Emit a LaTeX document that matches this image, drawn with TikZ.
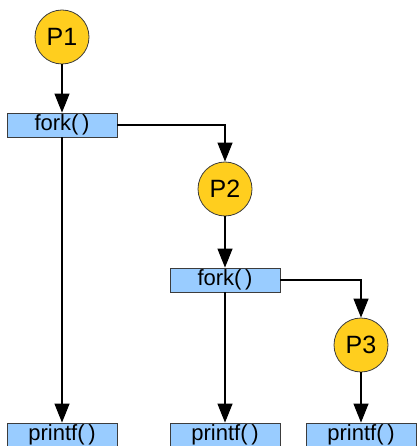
\documentclass[tikz,border=0pt]{standalone}
\usepackage{fontspec}
\setmainfont{Liberation Sans}
\usetikzlibrary{arrows.meta}
\definecolor{procgold}{RGB}{255,206,30}
\definecolor{callblue}{RGB}{153,204,255}
\definecolor{edgegray}{RGB}{60,60,60}
\begin{document}
\begin{tikzpicture}
[
x=1pt, y=-1pt,
proc/.style={circle, fill=procgold, draw=edgegray, thick, minimum size=54pt, inner sep=0pt, font=\fontsize{25}{25}\selectfont},
call/.style={rectangle, fill=callblue, draw=edgegray, thick, minimum width=110pt, minimum height=24pt, inner sep=0pt, font=\fontsize{22}{22}\selectfont},
flow/.style={-{Triangle[length=19pt,width=15pt]}, line width=1.2pt, black}
]
\useasboundingbox (0,0) rectangle (416,446);
%Nodes
\node[proc]     (p1)     at (62,37)      {P1};
\node[call]     (fork1)  at (62,125)     {fork(\,)};
\node[proc]     (p2)     at (225,189)    {P2};
\node[call]     (fork2)  at (225,280)    {fork(\,)};
\node[proc]     (p3)     at (361,345)    {P3};
\node[call]     (print1) at (62,435)     {printf(\,)};
\node[call]     (print2) at (225,435)    {printf(\,)};
\node[call]     (print3) at (361,435)    {printf(\,)};

%Lines
\draw[flow] (p1) -- (fork1);
\draw[flow] (fork1) -| (p2);
\draw[flow] (p2) -- (fork2);
\draw[flow] (fork2) -| (p3);
\draw[flow] (fork1) -- (print1);
\draw[flow] (fork2) -- (print2);
\draw[flow] (p3) -- (print3);

\end{tikzpicture}
\end{document}
